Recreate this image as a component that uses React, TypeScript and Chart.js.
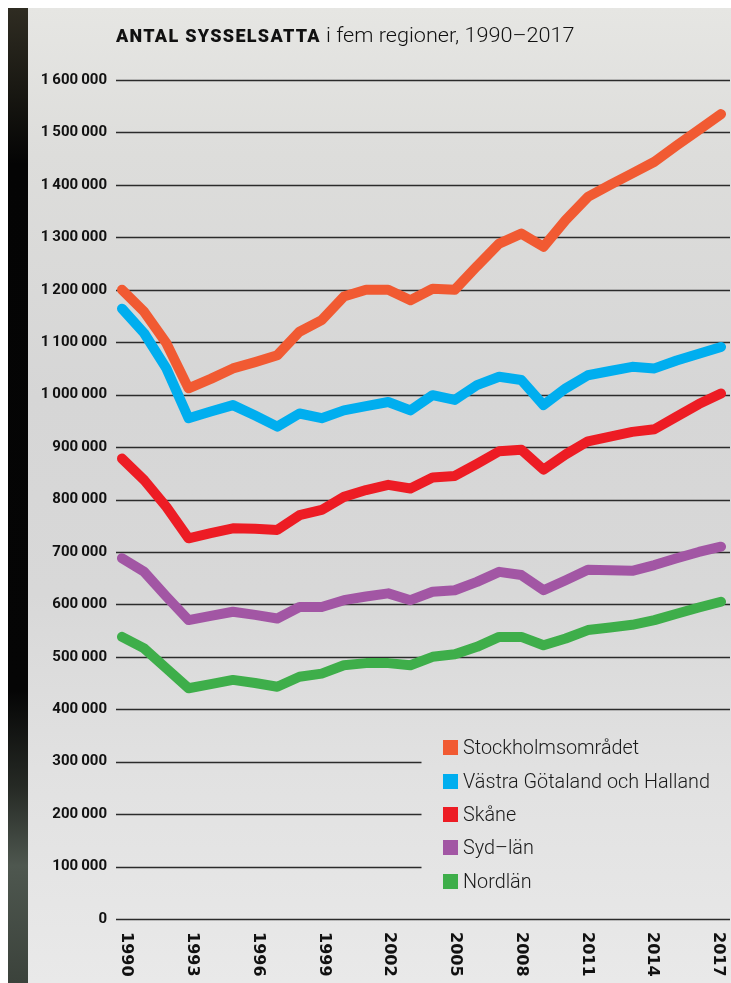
import React, { useEffect, useRef } from "react";
import { Chart, registerables } from "chart.js";

Chart.register(...registerables);

const years = [
  "1990", "1991", "1992", "1993", "1994", "1995", "1996", "1997", "1998", "1999",
  "2000", "2001", "2002", "2003", "2004", "2005", "2006", "2007", "2008", "2009",
  "2010", "2011", "2012", "2013", "2014", "2015", "2016", "2017",
];
const shownYears = ["1990", "1993", "1996", "1999", "2002", "2005", "2008", "2011", "2014", "2017"];

const stockholm = [
  1200000, 1158000, 1098000, 1012000, 1030000, 1050000, 1062000, 1075000, 1120000, 1142000,
  1187000, 1200000, 1200000, 1180000, 1202000, 1200000, 1245000, 1288000, 1307000, 1282000,
  1333000, 1377000, 1400000, 1422000, 1444000, 1475000, 1505000, 1535000,
];
const vastra = [
  1164000, 1117000, 1050000, 955000, 968000, 980000, 960000, 939000, 964000, 955000,
  970000, 978000, 986000, 970000, 999000, 990000, 1018000, 1034000, 1028000, 980000,
  1012000, 1037000, 1045000, 1053000, 1050000, 1065000, 1078000, 1091000,
];
const skane = [
  878000, 837000, 786000, 726000, 736000, 745000, 744000, 742000, 770000, 780000,
  805000, 818000, 828000, 821000, 842000, 845000, 868000, 892000, 895000, 857000,
  886000, 911000, 920000, 929000, 934000, 958000, 982000, 1002000,
];
const syd = [
  688000, 662000, 615000, 570000, 578000, 586000, 580000, 573000, 595000, 595000,
  608000, 615000, 621000, 608000, 624000, 627000, 643000, 662000, 656000, 627000,
  646000, 666000, 665000, 664000, 675000, 688000, 700000, 710000,
];
const nord = [
  538000, 516000, 478000, 440000, 448000, 456000, 450000, 443000, 462000, 468000,
  484000, 488000, 488000, 484000, 500000, 505000, 519000, 538000, 538000, 522000,
  535000, 551000, 556000, 561000, 570000, 582000, 594000, 605000,
];

const seriesNames = [
  "Stockholmsområdet",
  "Västra Götaland och Halland",
  "Skåne",
  "Syd–län",
  "Nordlän",
];
const seriesColors = ["#F15A32", "#00AEEF", "#ED1C24", "#A256A4", "#3EAE4A"];
const seriesValues = [stockholm, vastra, skane, syd, nord];

const yMin = 0;
const yMax = 1600000;
const yStep = 100000;
const shortGridMax = 300000;

function fmt(v: number): string {
  return String(v).replace(/\B(?=(\d{3})+(?!\d))/g, "\u2009");
}

export default function App() {
  const ref = useRef<HTMLCanvasElement>(null);

  useEffect(() => {
    const gridPlugin = {
      id: "customGrid",
      beforeDatasetsDraw(chart: any) {
        const { ctx, chartArea } = chart;
        const ys = chart.scales.y;
        const xs = chart.scales.x;
        ctx.save();
        ctx.strokeStyle = "#2b2b2b";
        ctx.lineWidth = 1.3;
        for (let v = yMin; v <= yMax; v += yStep) {
          const y = Math.round(ys.getPixelForValue(v)) + 0.5;
          const x0 = chartArea.left - 6;
          const x1 = v > 0 && v <= shortGridMax ? xs.getPixelForValue(13.5) : chartArea.right + 9;
          ctx.beginPath();
          ctx.moveTo(x0, y);
          ctx.lineTo(x1, y);
          ctx.stroke();
        }
        ctx.restore();
      },
    };
    const xLabelPlugin = {
      id: "xLabels",
      afterDraw(chart: any) {
        const { ctx, chartArea } = chart;
        const xs = chart.scales.x;
        const n = years.length - 1;
        ctx.save();
        ctx.fillStyle = "#111";
        ctx.font = "bold 16px 'DejaVu Sans'";
        ctx.textAlign = "left";
        ctx.textBaseline = "alphabetic";
        shownYears.forEach((yr) => {
          const i = years.indexOf(yr);
          const x = xs.getPixelForValue(i);
          const center = x + 6 - 7 * (i / n);
          ctx.save();
          ctx.translate(center - 5.8, chartArea.bottom + 13);
          ctx.rotate(Math.PI / 2);
          ctx.fillText(yr, 0, 0);
          ctx.restore();
        });
        ctx.restore();
      },
    };

    const chart = new Chart(ref.current!, {
      type: "line",
      data: {
        labels: years,
        datasets: seriesNames.map((name, i) => ({
          label: name,
          data: seriesValues[i],
          borderColor: seriesColors[i],
          backgroundColor: seriesColors[i],
          borderWidth: 10,
          pointRadius: 0,
          tension: 0,
          borderCapStyle: "round" as const,
          borderJoinStyle: "round" as const,
          fill: false,
        })),
      },
      options: {
        responsive: false,
        animation: false,
        devicePixelRatio: 1,
        layout: { padding: { top: 72, right: 10, bottom: 64, left: 0 } },
        plugins: {
          legend: { display: false },
          tooltip: { enabled: false },
          title: { display: false },
        },
        scales: {
          x: { display: false },
          y: {
            min: yMin,
            max: yMax,
            afterFit: (s: any) => {
              s.width = 114;
            },
            grid: { display: false, drawTicks: false },
            border: { display: false },
            ticks: {
              stepSize: yStep,
              padding: 15,
              color: "#111",
              font: { family: "Roboto", weight: "bold", size: 15 },
              callback: (v: any) => fmt(Number(v)),
            },
          },
        },
      },
      plugins: [gridPlugin, xLabelPlugin],
    });
    return () => chart.destroy();
  }, []);

  const legendTop = [739, 773, 806, 839, 873];

  return (
    <div
      style={{
        position: "fixed",
        left: 8,
        top: 8,
        width: 723,
        height: 975,
        overflow: "hidden",
        background:
          "linear-gradient(180deg, #e6e6e3 0%, #dddddb 15%, #d6d6d6 40%, #d8d8d8 60%, #e1e1e1 78%, #e9e9e9 100%)",
      }}
    >
      <div
        style={{
          position: "absolute",
          left: 0,
          top: 0,
          width: 20,
          height: 975,
          background:
            "linear-gradient(180deg, #2f2c22 0%, #1a1913 8%, #040404 16%, #050505 70%, #262a25 80%, #4e574f 88%, #3b423b 100%)",
        }}
      />
      <canvas
        ref={ref}
        width={723}
        height={975}
        style={{ position: "absolute", left: 0, top: 0 }}
      />
      <div
        style={{
          position: "absolute",
          left: 108,
          top: 17,
          whiteSpace: "nowrap",
          fontFamily: "Roboto, sans-serif",
          fontSize: 21,
          lineHeight: "21px",
          color: "#111",
        }}
      >
        <span style={{ fontWeight: 900, fontSize: 18, letterSpacing: 1.3 }}>ANTAL SYSSELSATTA</span>
        <span
          style={{
            display: "inline-block",
            fontWeight: 300,
            transform: "scaleX(1.03)",
            transformOrigin: "left",
            marginLeft: 5,
          }}
        >
          i fem regioner, 1990–2017
        </span>
      </div>
      {seriesNames.map((name, i) => (
        <div
          key={name}
          style={{
            position: "absolute",
            left: 435,
            top: legendTop[i] - 10,
            height: 20,
            display: "flex",
            alignItems: "center",
            whiteSpace: "nowrap",
          }}
        >
          <div style={{ width: 15, height: 15, background: seriesColors[i] }} />
          <span
            style={{
              marginLeft: 5,
              fontFamily: "Roboto, sans-serif",
              fontWeight: 300,
              fontSize: 20,
              color: "#1a1a1a",
              display: "inline-block",
              transform: "scaleX(0.99)",
              transformOrigin: "left",
            }}
          >
            {name}
          </span>
        </div>
      ))}
    </div>
  );
}
